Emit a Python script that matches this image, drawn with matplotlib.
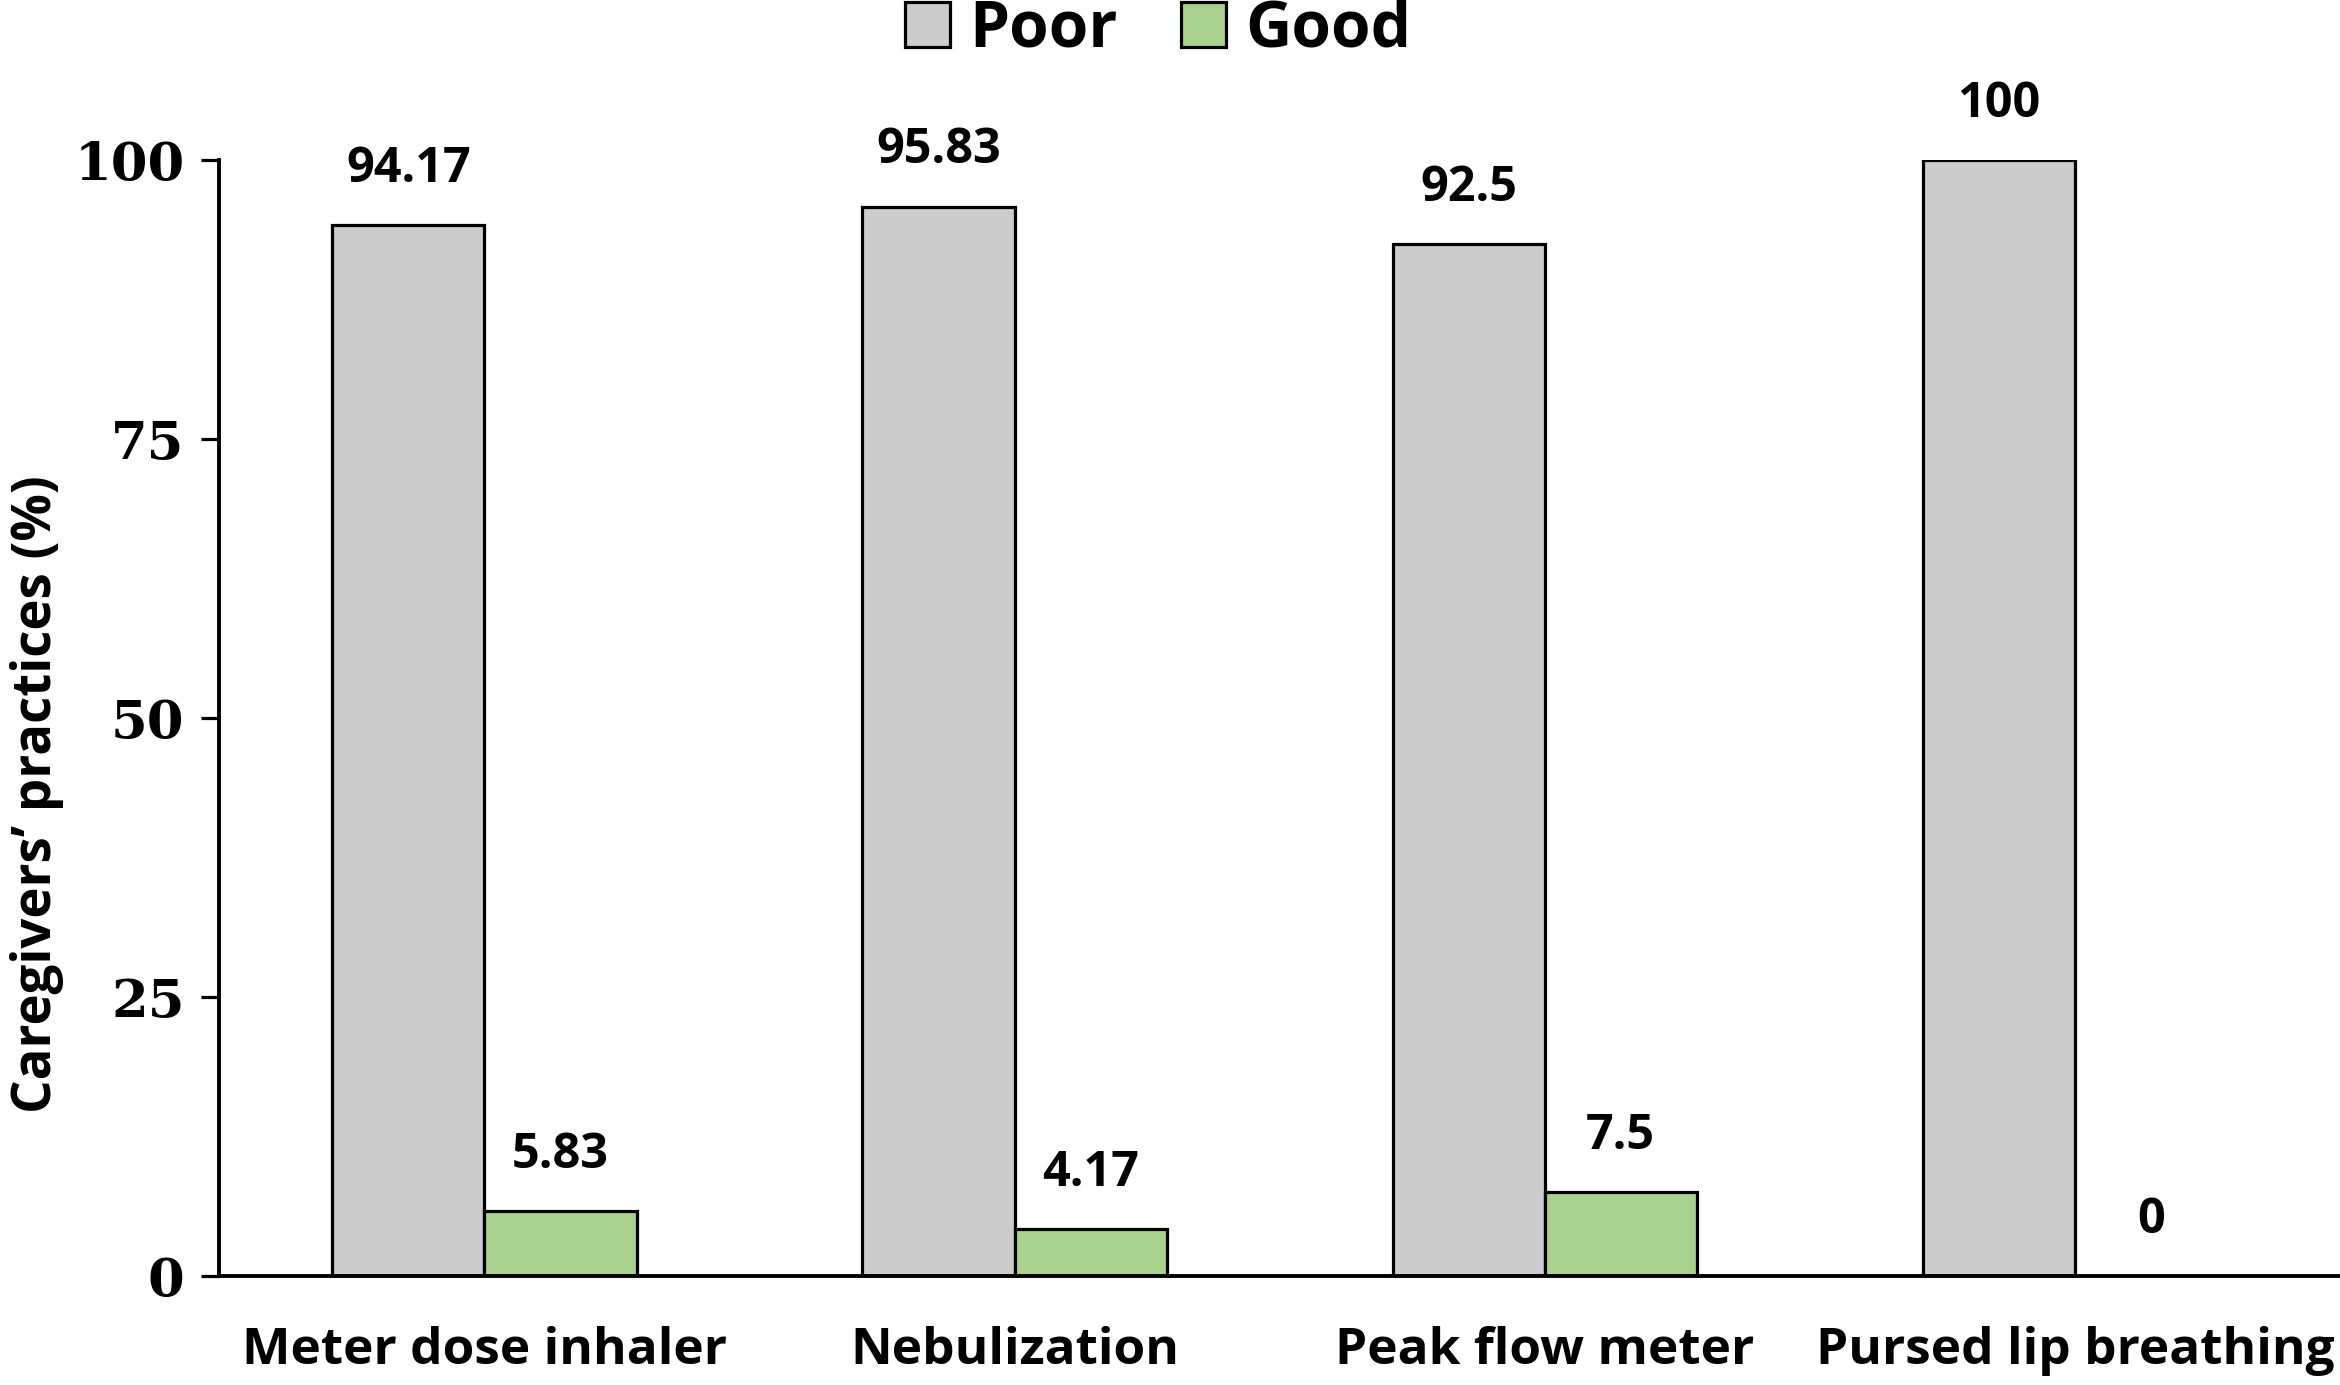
import matplotlib
matplotlib.use('Agg')
import matplotlib.pyplot as plt
import numpy as np

# Данные
categories = ['Meter dose inhaler', 'Nebulization', 'Peak flow meter', 'Pursed lip breathing']
poor = [94.17, 95.83, 92.5, 100]
good = [5.83, 4.17, 7.5, 0]
poor_labels = ['94.17', '95.83', '92.5', '100']
good_labels = ['5.83', '4.17', '7.5', '0']
yticks = [0, 25, 50, 75, 100]

fig = plt.figure(figsize=(23.4, 13.85), dpi=100)
ax = fig.add_axes([0.0937, 0.0787, 0.9063, 0.8058])

x = np.arange(len(categories))
w = 0.287
b1 = ax.bar(x - w / 2, poor, w, color='#CCCCCC', edgecolor='black', linewidth=2.3, label='Poor')
b2 = ax.bar(x + w / 2, good, w, color='#A9D18E', edgecolor='black', linewidth=2.3, label='Good')

# подписи над столбцами
lab_font = dict(family='Open Sans', fontweight='bold', fontsize=35)
for rect, t in zip(b1, poor_labels):
    ax.annotate(t, (rect.get_x() + rect.get_width() / 2, rect.get_height()),
                xytext=(0, 40), textcoords='offset points', ha='center', va='center', **lab_font)
for rect, t in zip(b2, good_labels):
    ax.annotate(t, (rect.get_x() + rect.get_width() / 2, rect.get_height()),
                xytext=(0, 40), textcoords='offset points', ha='center', va='center', **lab_font)

ax.set_xlim(-0.5, 3.5)
ax.set_ylim(0, 100)
ax.set_yticks(yticks)
ax.set_yticklabels([str(v) for v in yticks], family='DejaVu Serif', fontweight='bold', fontsize=38)
ax.set_xticks(x)
ax.set_xticklabels(categories, family='Open Sans', fontweight='bold', fontsize=37)
ax.tick_params(axis='x', length=0, pad=36)
ax.tick_params(axis='y', length=13, width=2.3, pad=12, direction='out')

for s in ['top', 'right']:
    ax.spines[s].set_visible(False)
ax.spines['left'].set_linewidth(2.8)
ax.spines['bottom'].set_linewidth(2.8)

ax.set_ylabel('Caregivers\u2019 practices (%)', family='Open Sans',
              fontweight='bold', fontsize=38)
ax.yaxis.set_label_coords(-0.073, 0.432)

fig.legend(loc='upper center', bbox_to_anchor=(0.495, 1.043), ncol=2, frameon=False,
           prop=dict(family='Open Sans', weight='bold', size=46),
           handlelength=0.7, handleheight=0.7, handletextpad=0.3, columnspacing=1.0)

fig.savefig('out.png', dpi=100)
